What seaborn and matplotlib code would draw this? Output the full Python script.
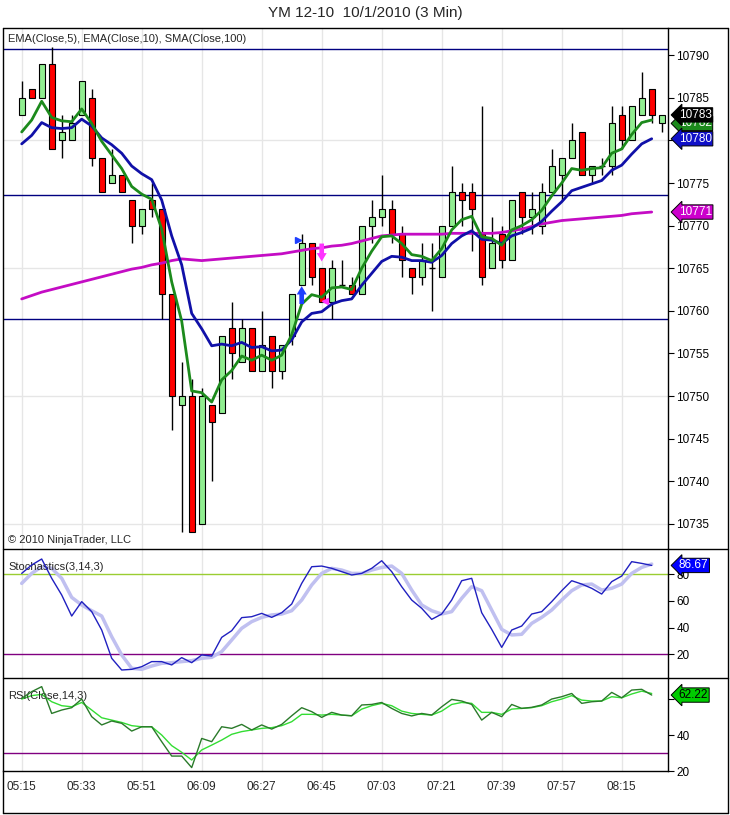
import numpy as np
import pandas as pd
import matplotlib
matplotlib.use("Agg")
import matplotlib.pyplot as plt
import seaborn as sns
from matplotlib.lines import Line2D

# 3 minute bars, YM 12-10, 05:15 .. 08:27
opens = [10783, 10786, 10785, 10789, 10780, 10780, 10783, 10785, 10778, 10775,
         10776, 10773, 10770, 10773, 10772, 10762, 10749, 10750, 10735, 10749,
         10748, 10758, 10754, 10758, 10753, 10757, 10753, 10757, 10763, 10768,
         10765, 10761, 10763, 10763, 10762, 10770, 10771, 10772, 10769, 10765,
         10764, 10765, 10764, 10770, 10774, 10774, 10769, 10765, 10769, 10766,
         10774, 10771, 10770, 10774, 10776, 10778, 10781, 10776, 10777, 10777,
         10783, 10780, 10783, 10786, 10782]
highs = [10787, 10786, 10789, 10791, 10783, 10783, 10787, 10786, 10778, 10779,
         10776, 10773, 10772, 10775, 10772, 10762, 10754, 10752, 10751, 10749,
         10757, 10761, 10759, 10758, 10760, 10757, 10756, 10762, 10769, 10768,
         10765, 10766, 10766, 10764, 10770, 10773, 10776, 10773, 10770, 10765,
         10768, 10768, 10770, 10777, 10775, 10775, 10784, 10771, 10770, 10773,
         10774, 10774, 10775, 10779, 10778, 10782, 10781, 10777, 10778, 10784,
         10784, 10784, 10788, 10786, 10783]
lows = [10783, 10785, 10785, 10779, 10778, 10780, 10783, 10777, 10774, 10775,
        10774, 10768, 10769, 10771, 10759, 10746, 10734, 10734, 10735, 10740,
        10748, 10752, 10754, 10753, 10753, 10751, 10752, 10756, 10763, 10763,
        10761, 10759, 10763, 10762, 10762, 10768, 10770, 10768, 10764, 10762,
        10763, 10760, 10764, 10770, 10770, 10767, 10763, 10765, 10765, 10766,
        10769, 10769, 10769, 10774, 10773, 10778, 10776, 10775, 10776, 10776,
        10779, 10780, 10783, 10782, 10781]
closes = [10785, 10785, 10789, 10779, 10781, 10782, 10787, 10778, 10774, 10776,
          10774, 10770, 10772, 10772, 10762, 10750, 10750, 10734, 10750, 10747,
          10757, 10755, 10758, 10753, 10756, 10753, 10756, 10762, 10768, 10764,
          10761, 10765, 10763, 10762, 10770, 10771, 10772, 10769, 10766, 10764,
          10766, 10765, 10770, 10774, 10773, 10772, 10764, 10768, 10766, 10773,
          10771, 10772, 10774, 10777, 10778, 10780, 10776, 10777, 10777, 10782,
          10780, 10784, 10785, 10783, 10783]

# indicators are plotted on closed bars only (64 values)
ema5 = [10781.0, 10782.4, 10784.6, 10782.7, 10782.3, 10782.2, 10783.7, 10782.0, 10779.9, 10778.3,
        10776.7, 10774.6, 10773.7, 10773.1, 10769.6, 10763.4, 10758.8, 10750.6, 10750.4, 10749.3,
        10751.9, 10753.0, 10754.7, 10754.2, 10754.8, 10754.2, 10754.8, 10757.2, 10760.8, 10761.9,
        10761.6, 10762.7, 10762.8, 10762.5, 10765.0, 10767.0, 10768.7, 10768.8, 10767.9, 10766.6,
        10766.4, 10765.9, 10767.3, 10769.5, 10770.7, 10771.1, 10768.7, 10768.5, 10767.7, 10769.5,
        10770.0, 10770.7, 10771.8, 10773.5, 10775.0, 10776.7, 10776.5, 10776.7, 10776.8, 10778.5,
        10779.0, 10780.7, 10782.1, 10782.4]
ema10 = [10779.6, 10780.6, 10782.1, 10781.5, 10781.4, 10781.5, 10782.5, 10781.7, 10780.3, 10779.5,
         10778.5, 10777.0, 10776.1, 10775.4, 10773.0, 10768.8, 10765.4, 10759.7, 10757.9, 10755.9,
         10756.1, 10755.9, 10756.3, 10755.7, 10755.8, 10755.3, 10755.4, 10756.6, 10758.7, 10759.7,
         10759.9, 10760.8, 10761.2, 10761.4, 10763.0, 10764.4, 10765.8, 10766.4, 10766.3, 10765.9,
         10765.9, 10765.7, 10766.5, 10767.9, 10768.8, 10769.4, 10768.4, 10768.3, 10767.9, 10768.8,
         10769.2, 10769.7, 10770.5, 10771.7, 10772.8, 10774.1, 10774.5, 10774.9, 10775.3, 10776.5,
         10777.1, 10778.4, 10779.6, 10780.2]
sma100 = [10761.4, 10761.8, 10762.2, 10762.5, 10762.8, 10763.1, 10763.4, 10763.7, 10764.0, 10764.3,
          10764.6, 10764.9, 10765.1, 10765.4, 10765.6, 10765.9, 10766.1, 10766.0, 10765.9, 10766.0,
          10766.1, 10766.2, 10766.3, 10766.4, 10766.5, 10766.6, 10766.7, 10766.9, 10767.1, 10767.3,
          10767.4, 10767.6, 10767.7, 10767.9, 10768.2, 10768.5, 10768.8, 10768.9, 10769.0, 10769.0,
          10769.0, 10769.0, 10769.0, 10769.1, 10769.1, 10769.1, 10769.1, 10769.1, 10769.2, 10769.4,
          10769.6, 10769.9, 10770.2, 10770.4, 10770.6, 10770.7, 10770.8, 10770.9, 10771.0, 10771.1,
          10771.2, 10771.4, 10771.5, 10771.6]
stoch_k = [80.7, 87, 91.5, 77, 64.5, 48.7, 59.5, 52, 38.2, 17, 8.2, 8.7, 10.7, 14.5, 14.5, 12,
           17.5, 13.7, 19.5, 18.7, 32.7, 37.7, 47.5, 48.2, 50.7, 47.7, 51.2, 57.7, 73.2, 85.7,
           86.2, 84.5, 82, 79.5, 80.7, 84.5, 90.2, 82, 70.7, 60.7, 54.5, 46.2, 50.2, 60.7, 75.2,
           77, 51.2, 38.7, 25.2, 38.2, 41.2, 50.2, 52, 59.5, 67.7, 75.2, 72.7, 69.5, 65.2, 74.5,
           78.7, 89.5, 88.2, 86.67]
stoch_d = [73.2, 80.7, 85.7, 84.5, 77, 62.7, 57, 52.7, 48.7, 33.2, 19.5, 9.5, 8.7, 11.2, 13.2,
           13.7, 14.5, 15.2, 17, 17.7, 22, 30.7, 39.5, 44.5, 47.7, 49.5, 50.2, 52.7, 60.7, 72,
           80.7, 84.5, 83.2, 80.7, 80.7, 83.2, 85.2, 86.2, 80.7, 68.2, 57, 52.7, 50.2, 52, 62,
           70.7, 67.7, 53.2, 38.7, 34.5, 35, 43.2, 47.7, 53.2, 60.7, 67.7, 72, 72.7, 68.2, 69.5,
           72.7, 80.7, 85.2, 87.7]
rsi = [60.4, 64.1, 66.9, 52, 53.9, 55.2, 60, 50.2, 45.6, 47.8, 46.5, 42.2, 44.6, 44.6, 36.3,
       28.3, 28.3, 21.9, 38.1, 36.3, 44.6, 43.7, 45.9, 42.8, 45.6, 43.3, 45.9, 50.7, 55.2, 53,
       49.8, 52.6, 51.1, 50.7, 56.7, 57, 58.1, 54.8, 52, 50.6, 52, 51.1, 55.7, 59.8, 58.9, 57,
       48.3, 52.6, 50.2, 57, 54.8, 55.4, 56.7, 60, 61.3, 63.1, 57.6, 58.5, 58.9, 63.7, 60.7,
       65, 65.4, 62.22]
rsi_avg = [60, 61.9, 62.6, 58.5, 56.3, 55.7, 58.1, 53.9, 49.6, 48.3, 47, 45.2, 44.6, 44.6, 40,
           34.1, 30.4, 26.1, 31.7, 34.4, 37.2, 40.4, 41.9, 42.8, 43.7, 44.1, 45.2, 47.4, 51.5,
           51.5, 51.1, 51.5, 51.1, 50.7, 54.4, 56.3, 57.6, 56.3, 53.3, 52, 51.5, 51.1, 53.3, 57,
           58.1, 57.6, 52.6, 52.6, 51.5, 54.4, 54.8, 55.2, 56.3, 58.5, 60, 61.9, 59.4, 58.9, 58.9,
           61.3, 60.7, 62.8, 64.4, 63.1]

levels = [10790.7, 10773.6, 10759.1]
time_labels = ['05:15', '05:33', '05:51', '06:09', '06:27', '06:45',
               '07:03', '07:21', '07:39', '07:57', '08:15']

W, H = 730, 815


def fx(px):
    return px / W


def fy(py):
    return 1 - py / H


def tag(ax, y, text, fc, tc):
    ax.text(1.016, y, text, transform=ax.get_yaxis_transform(), ha='left', va='center',
            fontsize=8.5, color=tc, clip_on=False, zorder=20,
            bbox=dict(boxstyle='larrow,pad=0.1', fc=fc, ec='black', lw=0.7))


sns.set_style("white")
plt.rcParams['font.family'] = ['Liberation Sans', 'DejaVu Sans']

fig = plt.figure(figsize=(W / 100, H / 100), dpi=100)
ax1 = fig.add_axes([fx(3), fy(549), fx(665), (549 - 28) / H])
ax2 = fig.add_axes([fx(3), fy(678), fx(665), (678 - 549) / H], sharex=ax1)
ax3 = fig.add_axes([fx(3), fy(771), fx(665), (771 - 678) / H], sharex=ax1)

df = pd.DataFrame({'open': opens, 'high': highs, 'low': lows, 'close': closes})
df['i'] = np.arange(len(df))
ind = pd.DataFrame({'i': np.arange(len(ema5)), 'ema5': ema5, 'ema10': ema10, 'sma100': sma100,
                    'k': stoch_k, 'd': stoch_d, 'rsi': rsi, 'rsi_avg': rsi_avg})

xt = np.arange(0, 61, 6)
grid_c = '#e6e6e6'

# ---- price panel
for lv in [10735, 10750, 10765, 10780]:
    ax1.axhline(lv, color=grid_c, lw=1, zorder=0)
for lv in levels:
    ax1.axhline(lv, color='#000080', lw=1, zorder=1)

ax1.vlines(df['i'], df['low'], df['high'], color='black', lw=1, zorder=2)
up = df[df['close'] > df['open']]
dn = df[df['close'] < df['open']]
dj = df[df['close'] == df['open']]
ax1.bar(up['i'], up['close'] - up['open'], bottom=up['open'], width=0.6,
        color='#90ee90', edgecolor='black', lw=0.8, zorder=3)
ax1.bar(dn['i'], dn['open'] - dn['close'], bottom=dn['close'], width=0.6,
        color='#ff0000', edgecolor='black', lw=0.8, zorder=3)
ax1.hlines(dj['open'], dj['i'] - 0.3, dj['i'] + 0.3, color='black', lw=1, zorder=3)

sns.lineplot(data=ind, x='i', y='sma100', ax=ax1, color='#c40cc4', lw=2, zorder=4)
sns.lineplot(data=ind, x='i', y='ema10', ax=ax1, color='#1010a8', lw=2, zorder=5)
sns.lineplot(data=ind, x='i', y='ema5', ax=ax1, color='#1c8a1c', lw=2, zorder=6)

# strategy markers
arrow = 'simple,head_width=0.6,head_length=0.5,tail_width=0.28'
ax1.plot([27.6], [10768.3], marker='>', color='#1f3fff', ms=5, zorder=7)
ax1.annotate('', xy=(28, 10762.9), xytext=(28, 10760.8),
             arrowprops=dict(arrowstyle=arrow, color='#1f3fff', lw=0, mutation_scale=12,
                             shrinkA=0, shrinkB=0),
             zorder=7)
ax1.annotate('', xy=(30, 10765.8), xytext=(30, 10767.9),
             arrowprops=dict(arrowstyle=arrow, color='#ff33ff', lw=0, mutation_scale=12,
                             shrinkA=0, shrinkB=0),
             zorder=7)
ax1.plot([30.3], [10761.2], marker='<', color='#ff33ff', ms=5, zorder=7)

ax1.set_ylim(10732.05, 10793.2)
yt1 = np.arange(10735, 10791, 5)
ax1.set_yticks(yt1)
# the 10780 tick label sits under the EMA(10) price tag
ax1.set_yticklabels(['' if v == 10780 else str(v) for v in yt1])
ax1.text(0.008, 0.979, 'EMA(Close,5), EMA(Close,10), SMA(Close,100)', transform=ax1.transAxes,
         ha='left', va='center', fontsize=8)
ax1.text(0.008, 0.017, '\u00a9 2010 NinjaTrader, LLC', transform=ax1.transAxes,
         ha='left', va='center', fontsize=8)
tag(ax1, ema5[-1] - 0.4, '10782', '#1c8a1c', 'white')
tag(ax1, closes[-1], '10783', 'black', 'white')
tag(ax1, ema10[-1], '10780', '#1010c8', 'white')
tag(ax1, sma100[-1], '10771', '#cc00cc', 'white')

# ---- stochastics panel
ax2.axhline(80, color='#9acd32', lw=1, zorder=1)
ax2.axhline(20, color='#800080', lw=1, zorder=1)
sns.lineplot(data=ind, x='i', y='d', ax=ax2, color='#c0c0f0', lw=2.5, zorder=3)
sns.lineplot(data=ind, x='i', y='k', ax=ax2, color='#2020c0', lw=1, zorder=4)
ax2.set_ylim(2.2, 99.0)
ax2.set_yticks([20, 40, 60, 80])
ax2.text(0.008, 0.86, 'Stochastics(3,14,3)', transform=ax2.transAxes,
         ha='left', va='center', fontsize=8)
tag(ax2, stoch_k[-1], '86.67', '#0000ff', 'white')

# ---- RSI panel
ax3.axhline(30, color='#800080', lw=1, zorder=1)
sns.lineplot(data=ind, x='i', y='rsi_avg', ax=ax3, color='#33dd33', lw=1, zorder=3)
sns.lineplot(data=ind, x='i', y='rsi', ax=ax3, color='#2a7a2a', lw=1, zorder=4)
ax3.set_ylim(20, 71.7)
ax3.set_yticks([20, 40, 60])
ax3.set_yticklabels(['20', '40', ''])
ax3.text(0.008, 0.81, 'RSI(Close,14,3)', transform=ax3.transAxes,
         ha='left', va='center', fontsize=8)
tag(ax3, rsi[-1], '62.22', '#00cc00', 'black')

for ax in (ax1, ax2, ax3):
    ax.set_xlim(-1.87, 64.63)
    ax.set_xticks(xt)
    ax.set_xlabel('')
    ax.set_ylabel('')
    ax.xaxis.grid(True, color=grid_c, lw=1, zorder=0)
    ax.yaxis.grid(False)
    ax.set_axisbelow(True)
    ax.yaxis.tick_right()
    ax.tick_params(axis='y', direction='out', length=4, width=0.8, labelsize=8.5, pad=2,
                   colors='black')
    for s in ('left', 'top', 'bottom'):
        ax.spines[s].set_visible(False)
    ax.spines['right'].set_color('black')
    ax.spines['right'].set_linewidth(1)
    if ax.get_legend():
        ax.get_legend().remove()

for ax in (ax1, ax2):
    ax.tick_params(axis='x', length=0, labelbottom=False)
ax3.spines['bottom'].set_visible(True)
ax3.spines['bottom'].set_color('black')
ax3.spines['bottom'].set_linewidth(1)
ax3.set_xticklabels(time_labels)
ax3.tick_params(axis='x', direction='out', length=5, width=0.8, labelsize=8.5, pad=2)

# frame and panel separators
for (x0, y0, x1, y1) in [(3, 28, 728, 28), (728, 28, 728, 813), (3, 813, 728, 813),
                         (3, 28, 3, 813), (3, 549, 728, 549), (3, 678, 728, 678)]:
    fig.add_artist(Line2D([fx(x0), fx(x1)], [fy(y0), fy(y1)], transform=fig.transFigure,
                          color='black', lw=1))

fig.text(0.5, fy(13), 'YM 12-10  10/1/2010 (3 Min)', ha='center', va='center', fontsize=11)

fig.savefig('out.png', dpi=100)
